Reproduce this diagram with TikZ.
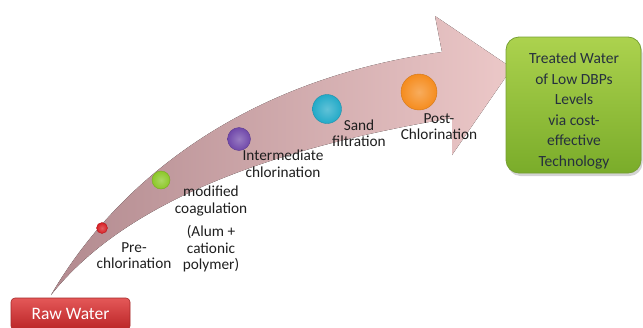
\documentclass[tikz,border=0pt]{standalone}
\usepackage{fontspec}
\setmainfont{Carlito}
\usetikzlibrary{shadows}
\definecolor{arrowdark}{RGB}{178,138,143}
\definecolor{arrowlight}{RGB}{236,200,200}
\definecolor{rawtop}{RGB}{228,88,88}
\definecolor{rawbot}{RGB}{186,36,38}
\definecolor{rawedge}{RGB}{165,40,40}
\definecolor{grtop}{RGB}{172,210,78}
\definecolor{grbot}{RGB}{122,172,42}
\definecolor{gredge}{RGB}{118,160,50}
\definecolor{gtext}{RGB}{38,48,62}
\definecolor{labeltext}{RGB}{30,30,30}
\definecolor{bred}{RGB}{215,30,35}
\definecolor{bgreen}{RGB}{140,200,40}
\definecolor{bpurple}{RGB}{112,72,170}
\definecolor{bblue}{RGB}{35,170,200}
\definecolor{borange}{RGB}{245,140,30}
\tikzset{
  ball/.style={circle, inner sep=0pt, inner color=#1!72!white, outer color=#1,
    draw=#1!85!black, line width=0.4pt},
  steplabel/.style={align=center, text=labeltext, inner sep=0pt,
    font=\fontsize{15.3}{16.5}\selectfont},
}
\begin{document}
\begin{tikzpicture}[x=1pt,y=-1pt]
\useasboundingbox (0,0) rectangle (643,327);
% big curved arrow
\fill[left color=arrowdark, right color=arrowlight]
  (51,295) .. controls (115,185) and (240,80) .. (442,52)
  -- (435,16) -- (512,68) -- (452,155) -- (452,118)
  .. controls (290,145) and (130,195) .. (51,295) -- cycle;
% balls
\node[ball=bred, minimum size=11pt] (b1) at (102,228) {};
\node[ball=bgreen, minimum size=18pt] (b2) at (161,180) {};
\node[ball=bpurple, minimum size=23pt] (b3) at (239,139) {};
\node[ball=bblue, minimum size=29pt] (b4) at (327,109) {};
\node[ball=borange, minimum size=36pt] (b5) at (419,92) {};
% labels
\node[steplabel] (l1) at (134,255.5) {Pre-\\chlorination};
\node[steplabel] (l2) at (211,229) {modified\\coagulation\\[7pt](Alum +\\cationic\\polymer)};
\node[steplabel] (l3) at (283,163.5) {Intermediate\\chlorination};
\node[steplabel] (l4) at (359,133) {Sand\\filtration};
\node[steplabel] (l5) at (439,126.5) {Post-\\Chlorination};
% raw water box
\node[draw=rawedge, line width=0.6pt, rounded corners=4pt, top color=rawtop, bottom color=rawbot,
  minimum width=119pt, minimum height=32pt, inner sep=0pt, text=white,
  font=\fontsize{17.5}{19}\selectfont] (raw) at (70.5,314) {Raw Water};
% treated water box
\node[draw=gredge, line width=0.8pt, rounded corners=13pt, top color=grtop, bottom color=grbot,
  minimum width=135pt, minimum height=136pt, inner sep=0pt,
  drop shadow={shadow xshift=1.5pt, shadow yshift=-3pt, opacity=0.35}] (treated) at (573.5,105) {};
\node[align=center, text=gtext, inner sep=0pt, font=\fontsize{15.5}{20.6}\selectfont]
  (treatedtext) at (574,111) {Treated Water\\of Low DBPs\\Levels\\via cost-\\effective\\Technology};
\end{tikzpicture}
\end{document}
